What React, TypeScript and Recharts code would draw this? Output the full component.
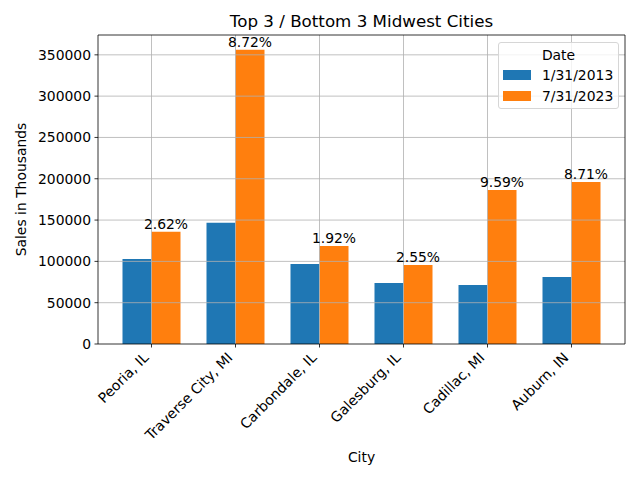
import React from "react";
import {
  BarChart,
  Bar,
  XAxis,
  YAxis,
  ReferenceLine,
  LabelList,
} from "recharts";

const cities = [
  "Peoria, IL",
  "Traverse City, MI",
  "Carbondale, IL",
  "Galesburg, IL",
  "Cadillac, MI",
  "Auburn, IN",
];
const sales2013 = [102900, 146900, 96900, 73900, 71500, 81100];
const sales2023 = [136000, 356000, 118700, 95700, 186500, 196200];
const growth = ["2.62%", "8.72%", "1.92%", "2.55%", "9.59%", "8.71%"];
const yTicks = [0, 50000, 100000, 150000, 200000, 250000, 300000, 350000];
const seriesNames = ["1/31/2013", "7/31/2023"];
const colors = ["#1f77b4", "#ff7f0e"];

const data = cities.map((city, i) => ({
  city,
  s2013: sales2013[i],
  s2023: sales2023[i],
  pct: growth[i],
}));

const FONT = "DejaVu Sans, sans-serif";
const GRID = "#b0b0b0";
const Y_MAX = 374000;

// rotated category labels, right end anchored at the tick
const XTick = ({ x, y, payload }: any) => (
  <g transform={`translate(${x - 2},${y + 9})`}>
    <text
      x={0}
      y={0}
      textAnchor="end"
      transform="rotate(-45)"
      fontFamily={FONT}
      fontSize={14}
      fill="#000"
    >
      {payload.value}
    </text>
  </g>
);

export default function App() {
  return (
    <div style={{ position: "absolute", left: 0, top: 0, width: 640, height: 480, background: "#fff" }}>
      <BarChart
        width={640}
        height={480}
        data={data}
        margin={{ top: 34, right: 14, bottom: 0, left: 0 }}
        barGap={0}
        barSize={29}
      >
        <XAxis
          dataKey="city"
          height={136}
          padding={{ left: 11.5, right: 11.5 }}
          tick={<XTick />}
          tickSize={3.5}
          tickLine={{ stroke: "#000", strokeWidth: 0.8 }}
          axisLine={{ stroke: "#000", strokeWidth: 0.8 }}
          interval={0}
        />
        <XAxis
          xAxisId="top"
          orientation="top"
          dataKey="city"
          height={1}
          tick={false}
          tickLine={false}
          axisLine={{ stroke: "#000", strokeWidth: 0.8 }}
          padding={{ left: 11.5, right: 11.5 }}
        />
        <YAxis
          width={98}
          domain={[0, Y_MAX]}
          ticks={yTicks}
          interval={0}
          tickSize={3.5}
          tickMargin={3.5}
          tick={{ fill: "#000", fontSize: 13.9, fontFamily: FONT }}
          tickLine={{ stroke: "#000", strokeWidth: 0.8 }}
          axisLine={{ stroke: "#000", strokeWidth: 0.8 }}
        />
        <YAxis
          yAxisId="right"
          orientation="right"
          width={1}
          domain={[0, Y_MAX]}
          tick={false}
          tickLine={false}
          axisLine={{ stroke: "#000", strokeWidth: 0.8 }}
        />
        <Bar dataKey="s2013" name={seriesNames[0]} fill={colors[0]} isAnimationActive={false} />
        <Bar dataKey="s2023" name={seriesNames[1]} fill={colors[1]} isAnimationActive={false}>
          <LabelList
            dataKey="pct"
            position="top"
            offset={3}
            fill="#000"
            fontSize={13.9}
            fontFamily={FONT}
          />
        </Bar>
        {yTicks.slice(1).map((v) => (
          <ReferenceLine key={v} y={v} stroke={GRID} strokeWidth={0.8} />
        ))}
        {cities.map((c) => (
          <ReferenceLine key={c} x={c} stroke={GRID} strokeWidth={0.8} />
        ))}
      </BarChart>

      <svg
        width={640}
        height={480}
        style={{ position: "absolute", left: 0, top: 0, pointerEvents: "none" }}
      >
        <text x={361.5} y={27} textAnchor="middle" fontFamily={FONT} fontSize={16.7} fill="#000">
          Top 3 / Bottom 3 Midwest Cities
        </text>
        <text
          x={0}
          y={0}
          transform="translate(26,189.5) rotate(-90)"
          textAnchor="middle"
          fontFamily={FONT}
          fontSize={13.9}
          fill="#000"
        >
          Sales in Thousands
        </text>
        <text x={361.5} y={462} textAnchor="middle" fontFamily={FONT} fontSize={13.9} fill="#000">
          City
        </text>
      </svg>

      {/* legend */}
      <div
        style={{
          position: "absolute",
          left: 498,
          top: 42,
          width: 119,
          height: 65,
          border: "1px solid #d6d6d6",
          borderRadius: 3,
          background: "rgba(255,255,255,0.8)",
          fontFamily: FONT,
          fontSize: 13.9,
          color: "#000",
        }}
      >
        <div style={{ position: "absolute", top: 4, width: "100%", textAlign: "center", lineHeight: "16px" }}>
          Date
        </div>
        {seriesNames.map((name, i) => (
          <div key={name}>
            <div
              style={{
                position: "absolute",
                left: 4,
                top: 27 + i * 21,
                width: 28,
                height: 10,
                background: colors[i],
              }}
            />
            <div style={{ position: "absolute", left: 43, top: 24 + i * 21, lineHeight: "16px" }}>
              {name}
            </div>
          </div>
        ))}
      </div>
    </div>
  );
}
